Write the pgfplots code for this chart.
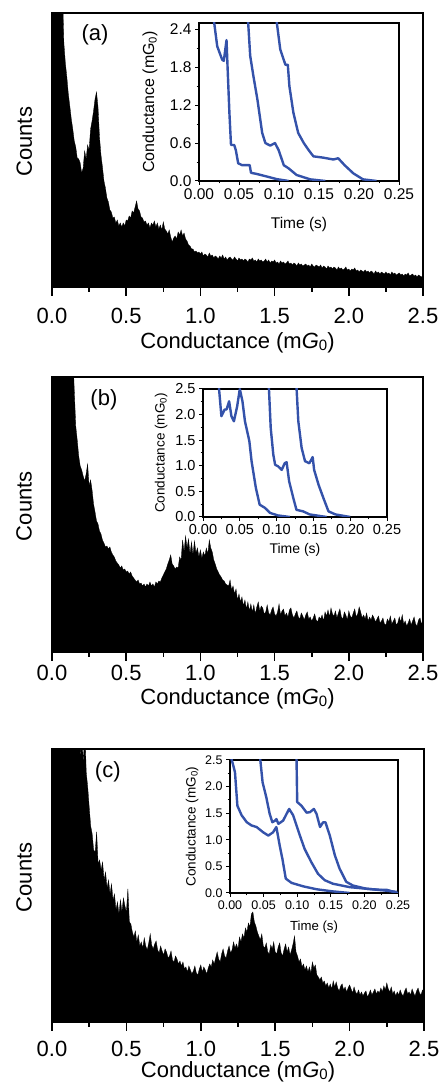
\documentclass[border=0pt]{standalone}
\usepackage{pgfplots}
\pgfplotsset{compat=1.18}
\usepackage{fontspec}
\setmainfont{Liberation Sans}
\definecolor{curveblue}{RGB}{52,82,170}
\newcommand{\fs}[1]{\fontsize{#1}{#1}\selectfont}
\pgfplotsset{
  mainax/.style={scale only axis, xmin=0, xmax=2.5, ymin=0, axis on top,
    /pgf/number format/assume math mode=true,
    axis line style={line width=2.8pt}, tick style={line width=1.6pt, black},
    tick align=outside, major tick length=9pt, minor tick length=5pt,
    xtick={0,0.5,1,1.5,2,2.5}, minor xtick={0.25,0.75,1.25,1.75,2.25},
    ytick=\empty, xtick pos=left,
    x tick label style={font=\fs{22}, /pgf/number format/fixed, /pgf/number format/fixed zerofill, /pgf/number format/precision=1},
    label style={font=\fs{22}},
    xlabel={Conductance (m\textit{G}\raisebox{-1.5pt}{\fs{15}0})}, ylabel={Counts}},
  inset/.style={scale only axis, xmin=0, xmax=0.25, ymin=0, ymax=2.5,
    /pgf/number format/assume math mode=true,
    axis line style={line width=1.2pt}, tick style={line width=1pt, black},
    tick align=outside, major tick length=4pt, minor tick length=2.5pt,
    xtick pos=left, ytick pos=left,
    xtick={0,0.05,0.1,0.15,0.2,0.25}, minor x tick num=1, minor y tick num=1,
    x tick label style={/pgf/number format/fixed, /pgf/number format/fixed zerofill, /pgf/number format/precision=2},
    y tick label style={/pgf/number format/fixed, /pgf/number format/fixed zerofill, /pgf/number format/precision=1},
    xlabel={Time (s)}, ylabel={Conductance (mG\textsubscript{0})}},
  curve/.style={curveblue, line width=2.4pt, line join=round, no marks},
  hist/.style={fill=black, draw=black, line width=0.3pt}
}
\begin{document}
\begin{tikzpicture}
\useasboundingbox (0,0) rectangle (440pt,1082pt);
% ---------------- panel (a) ----------------
\begin{axis}[mainax, at={(52pt,795pt)}, anchor=south west, width=371pt, height=274pt, ymax=274,
  x tick label style={yshift=-9pt},
  xlabel style={at={(axis description cs:0.5,-0.204)}, anchor=center},
  ylabel style={at={(axis description cs:-0.075,0.53)}, anchor=center}]
\addplot[hist] coordinates {
(0.00,300)(0.01,300)(0.02,300)(0.03,300)(0.04,300)(0.05,300)(0.06,300)(0.07,300)(0.08,244)(0.09,224)
(0.10,210)(0.11,193)(0.12,181)(0.13,168)(0.14,158)(0.15,146)(0.16,140)(0.17,129)(0.18,128)(0.19,124)
(0.20,114)(0.21,119)(0.22,136)(0.23,128)(0.24,142)(0.25,137)(0.26,158)(0.27,166)(0.28,176)(0.29,188)
(0.30,195)(0.31,180)(0.32,150)(0.33,132)(0.34,120)(0.35,106)(0.36,99)(0.37,89)(0.38,85)(0.39,77)
(0.40,75)(0.41,69)(0.42,70)(0.43,64)(0.44,67)(0.45,61)(0.46,64)(0.47,60)(0.48,64)(0.49,61)
(0.50,67)(0.51,66)(0.52,71)(0.53,69)(0.54,76)(0.55,74)(0.56,80)(0.57,86)(0.58,78)(0.59,76)
(0.60,70)(0.61,69)(0.62,65)(0.63,66)(0.64,62)(0.65,64)(0.66,59)(0.67,64)(0.68,62)(0.69,66)
(0.70,60)(0.71,64)(0.72,58)(0.73,62)(0.74,57)(0.75,65)(0.76,58)(0.77,56)(0.78,53)(0.79,57)
(0.80,50)(0.81,45)(0.82,49)(0.83,51)(0.84,48)(0.85,55)(0.86,52)(0.87,57)(0.88,51)(0.89,54)
(0.90,48)(0.91,46)(0.92,42)(0.93,41)(0.94,38)(0.95,38)(0.96,35)(0.97,36)(0.98,34)(0.99,35)
(1.00,33)(1.01,35)(1.02,31)(1.03,33)(1.04,32)(1.05,30)(1.06,34)(1.07,31)(1.08,32)(1.09,29)
(1.10,31)(1.11,30)(1.12,28)(1.13,31)(1.14,29)(1.15,32)(1.16,28)(1.17,30)(1.18,27)(1.19,29)
(1.20,30)(1.21,28)(1.22,27)(1.23,30)(1.24,28)(1.25,26)(1.26,29)(1.27,27)(1.28,28)(1.29,26)
(1.30,28)(1.31,27)(1.32,25)(1.33,28)(1.34,27)(1.35,29)(1.36,26)(1.37,27)(1.38,25)(1.39,28)
(1.40,26)(1.41,27)(1.42,25)(1.43,26)(1.44,28)(1.45,25)(1.46,27)(1.47,24)(1.48,26)(1.49,25)
(1.50,27)(1.51,24)(1.52,25)(1.53,23)(1.54,26)(1.55,24)(1.56,25)(1.57,23)(1.58,24)(1.59,26)
(1.60,23)(1.61,24)(1.62,22)(1.63,24)(1.64,23)(1.65,21)(1.66,24)(1.67,22)(1.68,23)(1.69,21)
(1.70,22)(1.71,23)(1.72,21)(1.73,22)(1.74,20)(1.75,23)(1.76,21)(1.77,20)(1.78,22)(1.79,21)
(1.80,20)(1.81,22)(1.82,19)(1.83,21)(1.84,20)(1.85,18)(1.86,21)(1.87,19)(1.88,20)(1.89,18)
(1.90,20)(1.91,19)(1.92,17)(1.93,20)(1.94,18)(1.95,19)(1.96,17)(1.97,18)(1.98,20)(1.99,17)
(2.00,18)(2.01,16)(2.02,18)(2.03,17)(2.04,19)(2.05,16)(2.06,17)(2.07,15)(2.08,17)(2.09,16)
(2.10,15)(2.11,17)(2.12,15)(2.13,16)(2.14,14)(2.15,16)(2.16,15)(2.17,13)(2.18,16)(2.19,14)
(2.20,15)(2.21,13)(2.22,15)(2.23,14)(2.24,13)(2.25,15)(2.26,13)(2.27,14)(2.28,12)(2.29,15)
(2.30,13)(2.31,14)(2.32,12)(2.33,13)(2.34,14)(2.35,12)(2.36,13)(2.37,11)(2.38,13)(2.39,12)
(2.40,14)(2.41,11)(2.42,12)(2.43,13)(2.44,11)(2.45,12)(2.46,10)(2.47,12)(2.48,11)(2.49,10)
(2.50,11)} \closedcycle;
\node[font=\fs{22}] at (rel axis cs:0.116,0.92) {(a)};
\end{axis}
\begin{axis}[inset, at={(199pt,901pt)}, anchor=south west, width=200pt, height=158pt,
  ytick={0,0.6,1.2,1.8,2.4},
  tick label style={font=\fs{15.5}}, xlabel style={font=\fs{15.5}, at={(axis description cs:0.5,-0.278)}, anchor=center},
  ylabel style={font=\fs{16}, at={(axis description cs:-0.245,0.5)}, anchor=center}]
\addplot[curve] coordinates {(0.018,2.6)(0.0228,2.13)(0.029,1.92)(0.031,1.90)(0.0344,2.23)(0.0355,1.87)(0.038,1.08)(0.040,0.57)(0.044,0.57)(0.046,0.49)(0.049,0.28)(0.054,0.25)(0.0634,0.25)(0.065,0.13)(0.0726,0.11)(0.085,0.07)(0.097,0.03)(0.112,0.0)};
\addplot[curve] coordinates {(0.061,2.6)(0.064,1.98)(0.068,1.66)(0.073,1.29)(0.079,0.76)(0.083,0.60)(0.089,0.56)(0.095,0.60)(0.0995,0.49)(0.106,0.25)(0.112,0.20)(0.122,0.095)(0.139,0.026)(0.158,0.0)};
\addplot[curve] coordinates {(0.0963,2.6)(0.1016,2.08)(0.108,1.84)(0.111,1.84)(0.113,1.50)(0.118,1.08)(0.124,0.76)(0.131,0.60)(0.137,0.49)(0.143,0.39)(0.155,0.37)(0.168,0.34)(0.174,0.36)(0.182,0.25)(0.193,0.12)(0.205,0.026)(0.222,0.0)};
\end{axis}
% ---------------- panel (b) ----------------
\begin{axis}[mainax, at={(52pt,430pt)}, anchor=south west, width=371pt, height=275pt, ymax=275,
  x tick label style={yshift=-1pt},
  xlabel style={at={(axis description cs:0.5,-0.172)}, anchor=center},
  ylabel style={at={(axis description cs:-0.075,0.53)}, anchor=center}]
\addplot[hist] coordinates {
(0.00,300)(0.01,300)(0.02,300)(0.03,300)(0.04,300)(0.05,300)(0.06,300)(0.07,300)(0.08,300)(0.09,300)
(0.10,300)(0.11,300)(0.12,300)(0.13,300)(0.14,300)(0.15,262)(0.16,226)(0.17,212)(0.18,196)(0.19,186)
(0.20,182)(0.21,176)(0.22,171)(0.23,178)(0.24,188)(0.25,166)(0.26,172)(0.27,162)(0.28,148)(0.29,140)
(0.30,131)(0.31,128)(0.32,121)(0.33,118)(0.34,112)(0.35,109)(0.36,105)(0.37,106)(0.38,103)(0.39,105)
(0.40,100)(0.41,97)(0.42,95)(0.43,91)(0.44,89)(0.45,87)(0.46,84)(0.47,86)(0.48,82)(0.49,83)
(0.50,80)(0.51,81)(0.52,78)(0.53,80)(0.54,76)(0.55,74)(0.56,72)(0.57,70)(0.58,72)(0.59,68)
(0.60,69)(0.61,66)(0.62,68)(0.63,65)(0.64,68)(0.65,66)(0.66,70)(0.67,66)(0.68,68)(0.69,65)
(0.70,70)(0.71,68)(0.72,71)(0.73,70)(0.74,74)(0.75,77)(0.76,80)(0.77,83)(0.78,88)(0.79,92)
(0.80,97)(0.81,88)(0.82,86)(0.83,83)(0.84,85)(0.85,84)(0.86,95)(0.87,92)(0.88,112)(0.89,100)
(0.90,116)(0.91,104)(0.92,113)(0.93,98)(0.94,110)(0.95,97)(0.96,111)(0.97,99)(0.98,104)(0.99,95)
(1.00,102)(1.01,94)(1.02,100)(1.03,96)(1.04,104)(1.05,98)(1.06,112)(1.07,104)(1.08,100)(1.09,92)
(1.10,88)(1.11,83)(1.12,80)(1.13,77)(1.14,75)(1.15,72)(1.16,71)(1.17,68)(1.18,67)(1.19,66)
(1.20,72)(1.21,62)(1.22,66)(1.23,58)(1.24,63)(1.25,52)(1.26,58)(1.27,50)(1.28,55)(1.29,46)
(1.30,52)(1.31,43)(1.32,50)(1.33,41)(1.34,48)(1.35,40)(1.36,47)(1.37,38)(1.38,45)(1.39,50)
(1.40,41)(1.41,46)(1.42,44)(1.43,38)(1.44,40)(1.45,47)(1.46,39)(1.47,37)(1.48,42)(1.49,45)
(1.50,38)(1.51,36)(1.52,40)(1.53,48)(1.54,37)(1.55,41)(1.56,43)(1.57,36)(1.58,39)(1.59,35)
(1.60,42)(1.61,44)(1.62,37)(1.63,34)(1.64,38)(1.65,41)(1.66,35)(1.67,33)(1.68,39)(1.69,36)
(1.70,32)(1.71,37)(1.72,40)(1.73,33)(1.74,35)(1.75,31)(1.76,34)(1.77,38)(1.78,32)(1.79,30)
(1.80,35)(1.81,33)(1.82,37)(1.83,31)(1.84,40)(1.85,36)(1.86,42)(1.87,35)(1.88,44)(1.89,38)
(1.90,36)(1.91,41)(1.92,34)(1.93,39)(1.94,43)(1.95,35)(1.96,33)(1.97,40)(1.98,37)(1.99,32)
(2.00,41)(2.01,36)(2.02,34)(2.03,39)(2.04,43)(2.05,35)(2.06,38)(2.07,45)(2.08,40)(2.09,34)
(2.10,37)(2.11,33)(2.12,39)(2.13,31)(2.14,35)(2.15,32)(2.16,37)(2.17,34)(2.18,30)(2.19,33)
(2.20,36)(2.21,29)(2.22,31)(2.23,34)(2.24,28)(2.25,27)(2.26,33)(2.27,30)(2.28,36)(2.29,28)
(2.30,31)(2.31,34)(2.32,27)(2.33,29)(2.34,35)(2.35,30)(2.36,37)(2.37,28)(2.38,31)(2.39,26)
(2.40,29)(2.41,33)(2.42,27)(2.43,31)(2.44,35)(2.45,28)(2.46,26)(2.47,32)(2.48,34)(2.49,28)
(2.50,31)} \closedcycle;
\node[font=\fs{22}] at (rel axis cs:0.14,0.916) {(b)};
\end{axis}
\begin{axis}[inset, at={(203pt,565pt)}, anchor=south west, width=184pt, height=128pt,
  ytick={0,0.5,1,1.5,2,2.5},
  tick label style={font=\fs{14.5}}, xlabel style={font=\fs{14}, at={(axis description cs:0.5,-0.258)}, anchor=center},
  ylabel style={font=\fs{13.5}, at={(axis description cs:-0.228,0.5)}, anchor=center}]
\addplot[curve] coordinates {(0.0212,2.6)(0.025,1.97)(0.0295,2.1)(0.032,2.1)(0.0355,2.26)(0.0386,1.97)(0.042,1.87)(0.0464,2.16)(0.05,2.5)(0.0536,2.26)(0.057,1.87)(0.063,1.48)(0.066,1.09)(0.0718,0.57)(0.077,0.24)(0.084,0.18)(0.091,0.08)(0.102,0.03)(0.118,0.0)};
\addplot[curve] coordinates {(0.0893,2.6)(0.092,1.74)(0.0955,1.22)(0.098,1.02)(0.102,0.99)(0.107,0.92)(0.111,1.05)(0.1136,1.07)(0.117,0.70)(0.1227,0.37)(0.127,0.14)(0.136,0.11)(0.145,0.05)(0.168,0.0)};
\addplot[curve] coordinates {(0.1268,2.6)(0.1295,1.87)(0.134,1.35)(0.1386,1.09)(0.1445,1.05)(0.149,1.17)(0.151,0.92)(0.157,0.63)(0.1636,0.37)(0.1705,0.11)(0.18,0.05)(0.2,0.0)};
\end{axis}
% ---------------- panel (c) ----------------
\begin{axis}[mainax, at={(52pt,60pt)}, anchor=south west, width=372pt, height=273pt, ymax=273,
  x tick label style={yshift=-7pt},
  xlabel style={at={(axis description cs:0.5,-0.184)}, anchor=center},
  ylabel style={at={(axis description cs:-0.075,0.53)}, anchor=center}]
\addplot[hist] coordinates {
(0.00,300)(0.01,300)(0.02,300)(0.03,300)(0.04,300)(0.05,300)(0.06,300)(0.07,300)(0.08,300)(0.09,300)
(0.10,300)(0.11,300)(0.12,300)(0.13,300)(0.14,300)(0.15,300)(0.16,300)(0.17,300)(0.18,300)(0.19,262)
(0.20,300)(0.21,255)(0.22,300)(0.23,250)(0.24,235)(0.25,215)(0.26,196)(0.27,188)(0.28,172)(0.29,170)
(0.30,190)(0.31,158)(0.32,162)(0.33,152)(0.34,160)(0.35,142)(0.36,150)(0.37,134)(0.38,142)(0.39,128)
(0.40,138)(0.41,122)(0.42,128)(0.43,112)(0.44,120)(0.45,108)(0.46,122)(0.47,110)(0.48,124)(0.49,116)
(0.50,110)(0.51,133)(0.52,100)(0.53,98)(0.54,90)(0.55,85)(0.56,91)(0.57,80)(0.58,87)(0.59,76)
(0.60,80)(0.61,74)(0.62,84)(0.63,76)(0.64,72)(0.65,79)(0.66,88)(0.67,77)(0.68,73)(0.69,78)
(0.70,81)(0.71,72)(0.72,69)(0.73,76)(0.74,71)(0.75,67)(0.76,73)(0.77,70)(0.78,64)(0.79,66)
(0.80,71)(0.81,62)(0.82,60)(0.83,66)(0.84,63)(0.85,58)(0.86,61)(0.87,56)(0.88,60)(0.89,53)
(0.90,55)(0.91,50)(0.92,56)(0.93,52)(0.94,48)(0.95,51)(0.96,56)(0.97,49)(0.98,47)(0.99,53)
(1.00,57)(1.01,50)(1.02,55)(1.03,52)(1.04,48)(1.05,54)(1.06,58)(1.07,55)(1.08,62)(1.09,58)
(1.10,64)(1.11,70)(1.12,63)(1.13,60)(1.14,68)(1.15,73)(1.16,66)(1.17,64)(1.18,71)(1.19,76)
(1.20,69)(1.21,72)(1.22,80)(1.23,74)(1.24,78)(1.25,73)(1.26,85)(1.27,80)(1.28,88)(1.29,84)
(1.30,94)(1.31,90)(1.32,99)(1.33,95)(1.34,108)(1.35,110)(1.36,100)(1.37,96)(1.38,90)(1.39,86)
(1.40,82)(1.41,88)(1.42,76)(1.43,74)(1.44,79)(1.45,70)(1.46,68)(1.47,77)(1.48,73)(1.49,80)
(1.50,70)(1.51,68)(1.52,75)(1.53,79)(1.54,69)(1.55,66)(1.56,73)(1.57,78)(1.58,70)(1.59,75)
(1.60,67)(1.61,72)(1.62,78)(1.63,86)(1.64,70)(1.65,66)(1.66,60)(1.67,63)(1.68,55)(1.69,58)
(1.70,52)(1.71,56)(1.72,50)(1.73,55)(1.74,49)(1.75,60)(1.76,54)(1.77,57)(1.78,47)(1.79,45)
(1.80,42)(1.81,45)(1.82,39)(1.83,41)(1.84,36)(1.85,39)(1.86,34)(1.87,38)(1.88,33)(1.89,41)
(1.90,35)(1.91,40)(1.92,34)(1.93,31)(1.94,36)(1.95,38)(1.96,32)(1.97,35)(1.98,30)(1.99,34)
(2.00,37)(2.01,33)(2.02,29)(2.03,35)(2.04,30)(2.05,28)(2.06,32)(2.07,27)(2.08,30)(2.09,26)
(2.10,29)(2.11,31)(2.12,25)(2.13,28)(2.14,32)(2.15,27)(2.16,30)(2.17,33)(2.18,28)(2.19,31)
(2.20,29)(2.21,34)(2.22,30)(2.23,36)(2.24,32)(2.25,39)(2.26,33)(2.27,30)(2.28,35)(2.29,28)
(2.30,31)(2.31,26)(2.32,30)(2.33,27)(2.34,32)(2.35,28)(2.36,26)(2.37,31)(2.38,34)(2.39,28)
(2.40,30)(2.41,27)(2.42,33)(2.43,29)(2.44,26)(2.45,31)(2.46,34)(2.47,29)(2.48,27)(2.49,32)
(2.50,30)} \closedcycle;
\node[font=\fs{22}] at (rel axis cs:0.15,0.916) {(c)};
\end{axis}
\begin{axis}[inset, at={(230pt,189pt)}, anchor=south west, width=168pt, height=133pt,
  ytick={0,0.5,1,1.5,2,2.5},
  tick label style={font=\fs{12.5}}, xlabel style={font=\fs{13.2}, at={(axis description cs:0.5,-0.256)}, anchor=center},
  ylabel style={font=\fs{13.5}, at={(axis description cs:-0.226,0.5)}, anchor=center}]
\addplot[curve] coordinates {(0.0005,2.6)(0.005,2.39)(0.0074,2.27)(0.011,1.64)(0.0173,1.46)(0.025,1.33)(0.032,1.27)(0.0396,1.24)(0.0495,1.14)(0.057,1.08)(0.064,1.14)(0.069,1.24)(0.074,0.89)(0.078,0.64)(0.083,0.27)(0.0916,0.19)(0.109,0.125)(0.129,0.07)(0.153,0.03)(0.178,0.0)};
\addplot[curve] coordinates {(0.0443,2.6)(0.0485,2.08)(0.054,1.8)(0.059,1.49)(0.063,1.33)(0.067,1.36)(0.069,1.39)(0.072,1.3)(0.079,1.36)(0.088,1.58)(0.094,1.46)(0.099,1.27)(0.104,1.08)(0.111,0.83)(0.121,0.58)(0.131,0.36)(0.141,0.24)(0.153,0.175)(0.178,0.11)(0.203,0.08)(0.228,0.05)(0.248,0.02)};
\addplot[curve] coordinates {(0.0989,2.6)(0.100,1.71)(0.1064,1.64)(0.114,1.51)(0.119,1.52)(0.1248,1.58)(0.1287,1.49)(0.134,1.24)(0.1386,1.33)(0.142,1.33)(0.1485,1.08)(0.156,0.71)(0.163,0.46)(0.173,0.21)(0.183,0.14)(0.203,0.08)(0.223,0.06)(0.233,0.06)(0.25,0.0)};
\end{axis}
\end{tikzpicture}
\end{document}
